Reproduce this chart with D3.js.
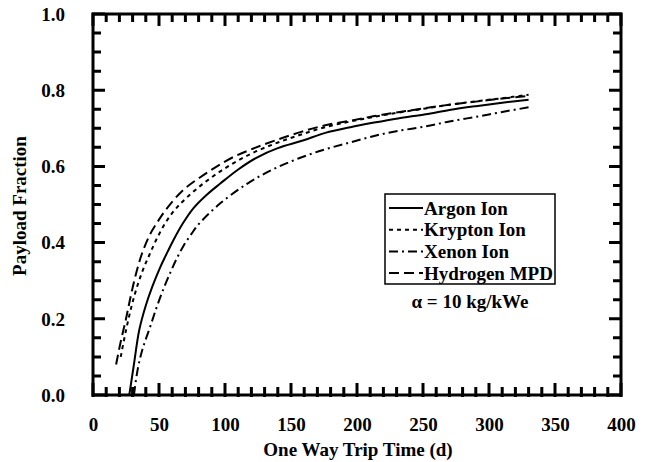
<!DOCTYPE html>
<html>
<head>
<meta charset="utf-8">
<script src="https://cdn.jsdelivr.net/npm/d3@7"></script>
<style>
  body { margin: 0; background: #fff; }
  text { font-family: "Liberation Serif", "Times New Roman", serif; font-weight: bold; fill: #000; }
</style>
</head>
<body>
<div id="chart"></div>
<script>
// series: [trip time (d), payload fraction]
let argon = [[27.5,0],[31,0.08],[35,0.17],[40,0.235],[45,0.285],[50.9,0.335],[55,0.365],[60.7,0.405],[68,0.45],[76,0.49],[86,0.525],[96.4,0.555],[110,0.592],[124.5,0.624],[140,0.648],[159,0.668],[176,0.688],[195,0.703],[213,0.715],[231,0.726],[252,0.737],[270,0.748],[290,0.758],[310,0.767],[330,0.775]];
let krypton = [[21,0.1],[25,0.17],[29,0.23],[33,0.28],[38,0.33],[43,0.37],[49,0.415],[56,0.458],[63,0.49],[71,0.518],[83.5,0.555],[100,0.595],[119,0.632],[138,0.66],[157,0.683],[176,0.703],[195,0.718],[213,0.73],[231,0.741],[252,0.752],[270,0.762],[290,0.771],[310,0.779],[330,0.788]];
let xenon = [[31,0],[34,0.07],[37.5,0.12],[43,0.176],[48,0.228],[53,0.275],[58.4,0.32],[63,0.355],[68.3,0.39],[75,0.425],[81,0.452],[96.4,0.503],[117,0.555],[135,0.59],[155,0.62],[176,0.645],[195,0.663],[213,0.68],[231,0.693],[252,0.705],[270,0.718],[290,0.73],[310,0.743],[330,0.755]];
let hydrogen = [[17.5,0.08],[21,0.14],[25,0.2],[28,0.25],[32,0.31],[37,0.37],[43,0.42],[49,0.455],[56,0.49],[68,0.537],[81,0.571],[93,0.598],[106,0.624],[121.5,0.647],[138,0.668],[157,0.69],[176,0.708],[195,0.72],[213,0.732],[231,0.742],[252,0.753],[270,0.762],[290,0.77],[310,0.778],[330,0.785]];

let seriesNames = ['Argon Ion', 'Krypton Ion', 'Xenon Ion', 'Hydrogen MPD'];
let seriesData = [argon, krypton, xenon, hydrogen];
let seriesDash = ['none', '4,4', '9,4,2,4', '10,5'];

let xTicks = [0, 50, 100, 150, 200, 250, 300, 350, 400];
let yTicks = [0.0, 0.2, 0.4, 0.6, 0.8, 1.0];

//svg size and plot box (absolute pixel coordinates)
let svgWidth = 650;
let svgHeight = 462;
let plotLeft = 93, plotRight = 621, plotTop = 14, plotBottom = 395;

let svg = d3.select('#chart').append('svg')
    .attr('width', svgWidth)
    .attr('height', svgHeight);

let x = d3.scaleLinear().domain([0, 400]).range([plotLeft, plotRight]);
let y = d3.scaleLinear().domain([0, 1]).range([plotBottom, plotTop]);

// frame
svg.append('rect')
    .attr('x', plotLeft).attr('y', plotTop)
    .attr('width', plotRight - plotLeft).attr('height', plotBottom - plotTop)
    .attr('fill', 'none').attr('stroke', '#000').attr('stroke-width', 3);

// tick labels
svg.append('g').attr('transform', `translate(0, ${plotBottom})`)
    .call(d3.axisBottom(x).tickValues(xTicks).tickSize(0).tickFormat(d3.format('d')))
    .call(s => s.select('.domain').remove())
    .call(s => s.selectAll('text').attr('font-size', 19).attr('dy', 0).attr('y', 36));
svg.append('g').attr('transform', `translate(${plotLeft}, 0)`)
    .call(d3.axisLeft(y).tickValues(yTicks).tickSize(0).tickFormat(d3.format('.1f')))
    .call(s => s.select('.domain').remove())
    .call(s => s.selectAll('text').attr('font-size', 19).attr('x', -28).attr('dy', '0.33em'));

// curves
let line = d3.line().x(d => x(d[0])).y(d => y(d[1])).curve(d3.curveCatmullRom);
svg.selectAll('.curve')
    .data(seriesData)
    .enter()
    .append('path')
    .attr('class', 'curve')
    .attr('d', d => line(d))
    .attr('fill', 'none')
    .attr('stroke', '#000')
    .attr('stroke-width', 2)
    .attr('stroke-dasharray', (d, i) => seriesDash[i]);

//minor ticks every 10 d and 0.05, inside the frame, drawn last
let xMinor = d3.range(0, 401, 10);
let yMinor = d3.range(0, 1.0001, 0.05);
let xLen = d => d % 50 === 0 ? 12 : 8;
let yLen = d => Math.abs(d * 5 - Math.round(d * 5)) < 1e-6 ? 12 : 8;

let tickPath = '';
xMinor.forEach(d => {
    tickPath += `M${x(d)},${plotBottom + 2}V${plotBottom - xLen(d)}`;
    tickPath += `M${x(d)},${plotTop - 1}V${plotTop + xLen(d)}`;
});
yMinor.forEach(d => {
    tickPath += `M${plotLeft - 1},${y(d)}H${plotLeft + yLen(d)}`;
    tickPath += `M${plotRight + 1},${y(d)}H${plotRight - yLen(d)}`;
});
svg.append('path')
    .attr('d', tickPath)
    .attr('fill', 'none')
    .attr('stroke', '#000')
    .attr('stroke-width', 3);

// legend
let legend = svg.append('g').attr('transform', 'translate(385, 194)');
legend.append('rect')
    .attr('width', 170).attr('height', 90)
    .attr('fill', '#fff').attr('stroke', '#000').attr('stroke-width', 1.5);
seriesNames.forEach((name, i) => {
    let row = legend.append('g').attr('transform', `translate(0, ${14 + i * 21.7})`);
    row.append('line')
        .attr('x1', 4).attr('x2', 38)
        .attr('stroke', '#000').attr('stroke-width', 2)
        .attr('stroke-dasharray', seriesDash[i]);
    row.append('text')
        .attr('x', 39).attr('dy', '0.35em')
        .attr('font-size', 19)
        .text(name);
});

svg.append('text')
    .attr('x', 470).attr('y', 308)
    .attr('text-anchor', 'middle')
    .attr('font-size', 19)
    .text('α = 10 kg/kWe');

// axis titles
svg.append('text')
    .attr('x', 358).attr('y', 456)
    .attr('text-anchor', 'middle')
    .attr('font-size', 19)
    .text('One Way Trip Time (d)');
svg.append('text')
    .attr('transform', 'translate(26, 206) rotate(-90)')
    .attr('text-anchor', 'middle')
    .attr('font-size', 19)
    .text('Payload Fraction');
</script>
</body>
</html>
